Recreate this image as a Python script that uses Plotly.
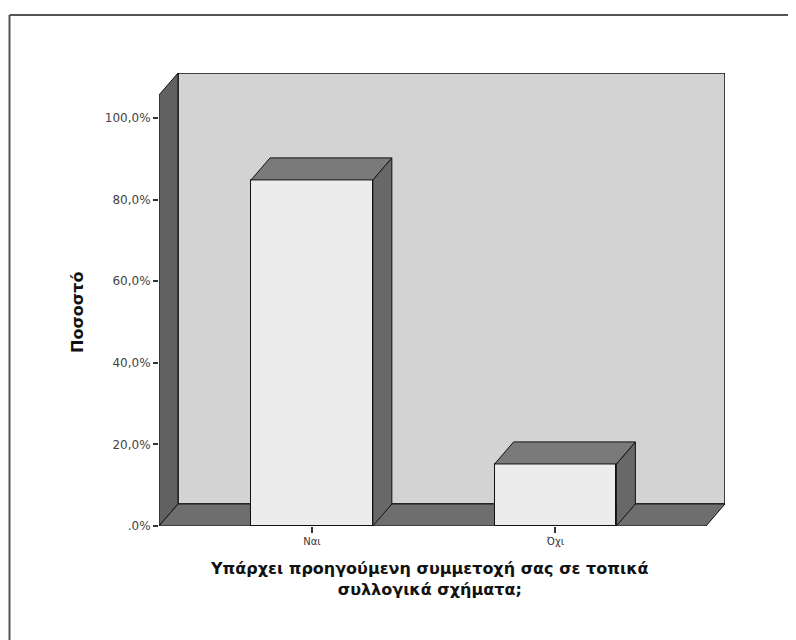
import plotly.graph_objects as go

# ---- data ----
categories = ["Ναι", "Όχι"]
percentages = [84.8, 15.2]
y_tick_values = [0, 20, 40, 60, 80, 100]
y_tick_labels = [".0%", "20,0%", "40,0%", "60,0%", "80,0%", "100,0%"]
x_title_lines = ["Υπάρχει προηγούμενη συμμετοχή σας σε τοπικά", "συλλογικά σχήματα;"]
y_title = "Ποσοστό"

# ---- geometry / style ----
W, H = 796, 640
OFF = 8  # page body margin of the browser
ML, MR, MT, MB = 151, 79, 65, 122
PW, PH = W - ML - MR, H - MT - MB
X_RANGE = [-0.628, 1.696]
Y_RANGE = [0, 111.0]
BAR_W = 0.5
DX = 0.078   # depth offset in x data units
DY = 5.4     # depth offset in y data units

FONT = "Arial, Liberation Sans, sans-serif"
TFONT = "DejaVu Sans, sans-serif"
WALL = "#d3d3d3"
SIDEWALL = "#616161"
FLOOR = "#6e6e6e"
FRONT = "#ececec"
TOP = "#7a7a7a"
SIDE = "#686868"
EDGE = "#111111"


def px_x(px):
    return (px - OFF - ML) / PW


def px_y(py):
    return (H - MB - (py - OFF)) / PH


positions = list(range(len(categories)))
x0, x1 = X_RANGE
y_top = Y_RANGE[1]

fig = go.Figure()

fig.add_trace(go.Bar(
    x=positions, y=percentages, width=BAR_W,
    marker=dict(color=FRONT, line=dict(color=EDGE, width=1)),
    hoverinfo="skip", showlegend=False,
))

for p, v in zip(positions, percentages):
    l, r = p - BAR_W / 2, p + BAR_W / 2
    # side face
    fig.add_trace(go.Scatter(
        x=[r, r + DX, r + DX, r, r], y=[0, DY, v + DY, v, 0],
        mode="lines", fill="toself", fillcolor=SIDE,
        line=dict(color=EDGE, width=1), hoverinfo="skip", showlegend=False,
    ))
    # top face
    fig.add_trace(go.Scatter(
        x=[l, l + DX, r + DX, r, l], y=[v, v + DY, v + DY, v, v],
        mode="lines", fill="toself", fillcolor=TOP,
        line=dict(color=EDGE, width=1), hoverinfo="skip", showlegend=False,
    ))

shapes = [
    # back wall
    dict(type="rect", xref="x", yref="y", x0=x0 + DX, x1=x1, y0=DY, y1=y_top,
         fillcolor=WALL, line=dict(color=EDGE, width=1.5), layer="below"),
    # left wall
    dict(type="path", xref="x", yref="y",
         path=f"M {x0},0 L {x0},{y_top - DY} L {x0 + DX},{y_top} L {x0 + DX},{DY} Z",
         fillcolor=SIDEWALL, line=dict(color=EDGE, width=1), layer="below"),
    # floor
    dict(type="path", xref="x", yref="y",
         path=f"M {x0},0 L {x1 - DX},0 L {x1},{DY} L {x0 + DX},{DY} Z",
         fillcolor=FLOOR, line=dict(color=EDGE, width=1), layer="below"),
    # outer frame (left and top edges)
    dict(type="line", xref="paper", yref="paper",
         x0=px_x(9.5), x1=px_x(9.5), y0=px_y(15), y1=px_y(660),
         line=dict(color="#555555", width=2)),
    dict(type="line", xref="paper", yref="paper",
         x0=px_x(9.5), x1=px_x(810), y0=px_y(15), y1=px_y(15),
         line=dict(color="#555555", width=2)),
]

annotations = [
    dict(text="<br>".join(f"<b>{s}</b>" for s in x_title_lines),
         xref="paper", yref="paper",
         x=px_x(429), y=px_y(579), xanchor="center", yanchor="middle",
         showarrow=False, borderpad=0,
         font=dict(family=TFONT, size=16, color="#111")),
    dict(text=f"<b>{y_title}</b>", xref="paper", yref="paper",
         x=px_x(77), y=px_y(312), xanchor="center", yanchor="middle",
         textangle=-90, showarrow=False,
         font=dict(family=TFONT, size=16, color="#111")),
]

fig.update_layout(
    width=W, height=H,
    margin=dict(l=ML, r=MR, t=MT, b=MB, pad=0),
    paper_bgcolor="white", plot_bgcolor="white",
    shapes=shapes, annotations=annotations,
    bargap=0, showlegend=False,
    font=dict(family=FONT, color="#333"),
    xaxis=dict(range=X_RANGE, tickvals=positions, ticktext=categories,
               ticks="outside", ticklen=6, tickcolor="#333", tickwidth=1.5,
               showgrid=False, zeroline=False, showline=False,
               tickfont=dict(family=TFONT, size=10, color="#333"), fixedrange=True),
    yaxis=dict(range=Y_RANGE, tickvals=y_tick_values, ticktext=y_tick_labels,
               ticks="outside", ticklen=5, tickcolor="#333", tickwidth=1.5,
               showgrid=False, zeroline=False, showline=False,
               tickfont=dict(family=TFONT, size=12, color="#444"), fixedrange=True),
)

fig.write_html("out.html")
